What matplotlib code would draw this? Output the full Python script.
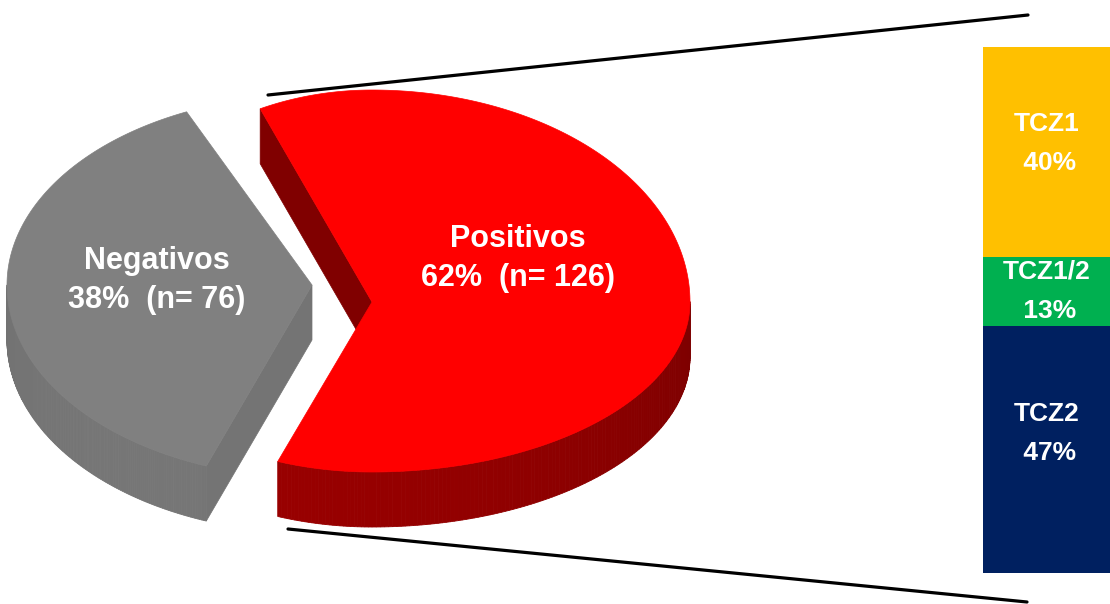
import numpy as np
import matplotlib
matplotlib.use('Agg')
import matplotlib.pyplot as plt
from matplotlib.patches import Polygon
from matplotlib.colors import to_rgb

# Datos: pacientes positivos / negativos
grupos = ['Negativos', 'Positivos']
n_grupos = [76, 126]
colores_pie = ['#808080', '#FF0000']

# Datos: subtipos dentro de los positivos (%)
subtipos = ['TCZ1', 'TCZ1/2', 'TCZ2']
pct_subtipos = [40, 13, 47]
colores_barra = ['#FFC000', '#00B050', '#002060']

plt.rcParams['font.family'] = ['Liberation Sans', 'DejaVu Sans']

fig = plt.figure(figsize=(11.1, 6.04), dpi=100)
ax = fig.add_axes([0, 0, 1, 1])
ax.set_xlim(0, 1110)
ax.set_ylim(604, 0)
ax.axis('off')

# Geometría de la torta "3D" (en píxeles de la figura), una por porción
# vértice, radios (izq, der, arriba, abajo), profundidad
vertices = [(312, 285), (372, 302)]
radios = [(305, 305, 190, 193), (272, 318, 212, 170)]
prof = 55
k_borde = [0.85, 0.53]   # oscurecimiento del canto
k_cara = [0.91, 0.50]    # oscurecimiento de las caras de corte
etiqueta_r = [0.51, 0.46]
etiqueta_dy = [-8, -40]


def punto(c, rr, th, dz=0.0):
    t = np.radians(th)
    ct, st = np.cos(t), np.sin(t)
    rx = rr[0] if ct < 0 else rr[1]
    ry = rr[2] if st > 0 else rr[3]
    return [c[0] + rx * ct, c[1] - ry * st + dz]


# Líneas que unen la porción positiva con la barra
ax.plot([268, 1028], [95, 15], color='black', lw=2.3, solid_capstyle='round', zorder=1)
ax.plot([288, 1027], [529, 602], color='black', lw=2.3, solid_capstyle='round', zorder=1)

total = sum(n_grupos)
fracs = [n / total for n in n_grupos]
t1 = 182 - fracs[0] * 180   # porción gris centrada a la izquierda

for i, (grupo, n, f, col) in enumerate(zip(grupos, n_grupos, fracs, colores_pie)):
    t2 = t1 + f * 360
    c = vertices[i]
    rr = radios[i]
    base = np.array(to_rgb(col))

    # caras de corte visibles
    for th, vis in [(t1, np.cos(np.radians(t1)) > 0), (t2, np.cos(np.radians(t2)) < 0)]:
        if vis:
            cara = [list(c), punto(c, rr, th), punto(c, rr, th, prof), [c[0], c[1] + prof]]
            ax.add_patch(Polygon(cara, closed=True, fc=base * k_cara[i],
                                 ec=base * k_cara[i], lw=0.5, zorder=2))

    # canto exterior (solo la parte frontal)
    ts = np.linspace(t1, t2, 300)
    for ta, tb in zip(ts[:-1], ts[1:]):
        if np.sin(np.radians((ta + tb) / 2)) >= 0:
            continue
        k = k_borde[i] + 0.07 * np.cos(np.radians((ta + tb) / 2 - 235))
        cc = np.clip(base * k, 0, 1)
        quad = [punto(c, rr, ta), punto(c, rr, tb), punto(c, rr, tb, prof), punto(c, rr, ta, prof)]
        ax.add_patch(Polygon(quad, closed=True, fc=cc, ec=cc, lw=0.6, zorder=3))

    # cara superior
    tapa = [list(c)] + [punto(c, rr, t) for t in ts]
    ax.add_patch(Polygon(tapa, closed=True, fc=base, ec=base, lw=0.5, zorder=4))

    # etiqueta
    tm = (t1 + t2) / 2
    lx, ly = punto(c, rr, tm)
    lx = c[0] + etiqueta_r[i] * (lx - c[0])
    ly = c[1] + etiqueta_r[i] * (ly - c[1]) + etiqueta_dy[i]
    ax.text(lx, ly, f'{grupo}\n{round(100 * f)}%  (n= {n})', color='white',
            fontsize=22, fontweight='bold', ha='center', va='center',
            linespacing=1.42, zorder=5)
    t1 = t2

# Barra apilada de subtipos
axb = fig.add_axes([983 / 1110, (604 - 573) / 604, 127 / 1110, 526 / 604])
axb.set_xlim(-0.5, 0.5)
axb.set_ylim(100, 0)
axb.axis('off')
ajuste_y = [-1.6, 0, -3]
abajo = 0
for nom, p, col, dy in zip(subtipos, pct_subtipos, colores_barra, ajuste_y):
    axb.bar(0, p, bottom=abajo, width=1, color=col)
    axb.text(0, abajo + p / 2 + dy, f'{nom}\n {p}%', color='white', fontsize=19,
             fontweight='bold', ha='center', va='center', linespacing=1.8)
    abajo += p

fig.savefig('out.png', dpi=100)
